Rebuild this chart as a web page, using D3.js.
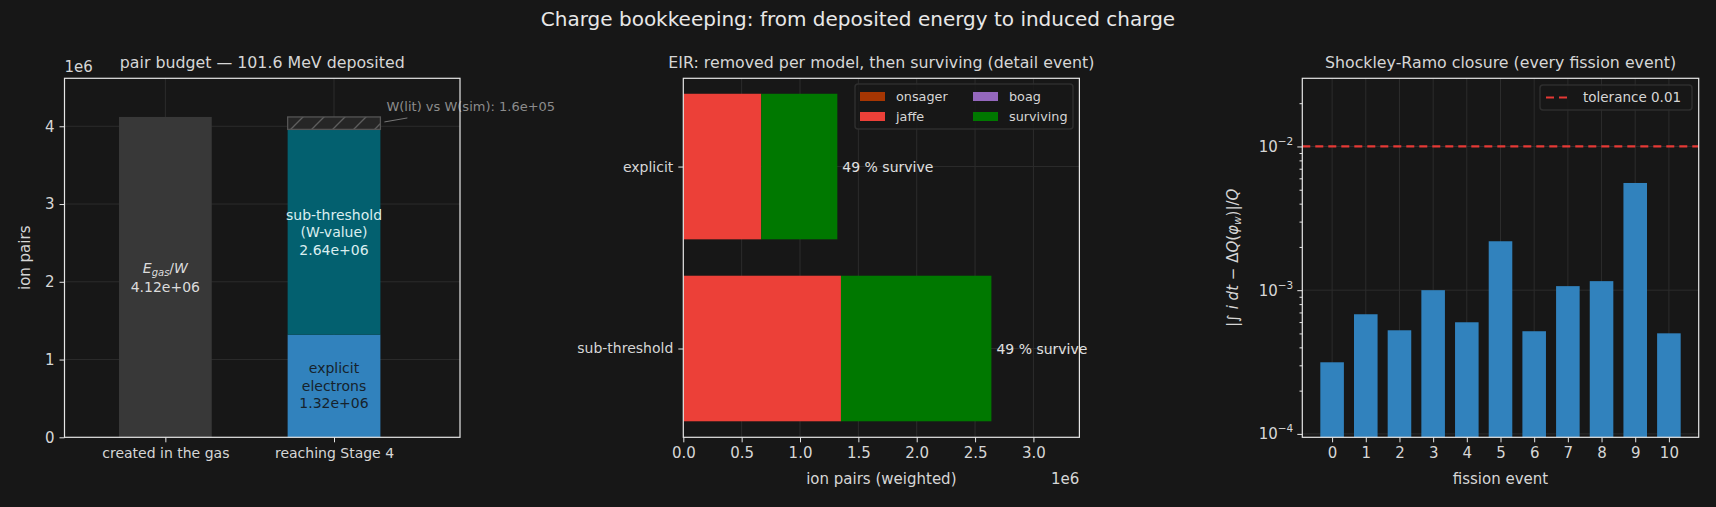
<!DOCTYPE html>
<html>
<head>
<meta charset="utf-8">
<script src="https://cdn.jsdelivr.net/npm/d3@7"></script>
<style>
  body { margin: 0; background: #171717; }
  svg { display: block; }
  text { font-family: "DejaVu Sans", sans-serif; }
</style>
</head>
<body>
<div class="canvas"></div>
<script>
// ---- data ----
const budgetCats = ['created in the gas', 'reaching Stage 4'];
const createdPairs = [4.12e6];
const stageNames = ['explicit', 'sub-threshold', 'W gap'];
const stageValues = [1.32e6, 2.64e6, 0.16e6];

const eirCats = ['sub-threshold', 'explicit'];
const eirModels = ['onsager', 'jaffe', 'boag', 'surviving'];
const onsager = [2e3, 2e3];
const jaffe = [1.349e6, 0.666e6];
const boag = [0, 0];
const surviving = [1.289e6, 0.652e6];

const events = [0, 1, 2, 3, 4, 5, 6, 7, 8, 9, 10];
const closure = [3.15e-4, 6.8e-4, 5.26e-4, 1.0e-3, 5.98e-4, 2.19e-3, 5.18e-4, 1.067e-3, 1.156e-3, 5.57e-3, 5.01e-4];
const tolerance = 0.01;

// ---- layout ----
const W = 1716, H = 507;
const plotTop = 78.3, plotBottom = 437.3;
const panels = {
    L: { x0: 64.5, x1: 460 },
    M: { x0: 683.3, x1: 1079.4 },
    R: { x0: 1302.3, x1: 1698.7 }
};
const fg = '#d6d6d6', gridC = '#2c2c2c', frameC = '#e6e6e6';

const svg = d3.select('.canvas')
    .append('svg')
    .attr('width', W)
    .attr('height', H);

svg.append('rect').attr('width', W).attr('height', H).attr('fill', '#171717');

// hatch pattern
const defs = svg.append('defs');
defs.append('pattern')
    .attr('id', 'hatch')
    .attr('patternUnits', 'userSpaceOnUse')
    .attr('width', 21).attr('height', 21)
    .append('path')
    .attr('d', 'M0,21 L21,0 M-5,5 L5,-5 M16,26 L26,16')
    .attr('stroke', '#5e5e5e').attr('stroke-width', 1.3);

svg.append('text')
    .attr('x', W / 2).attr('y', 26)
    .attr('text-anchor', 'middle')
    .attr('fill', '#e8e8e8')
    .attr('font-size', 20)
    .text('Charge bookkeeping: from deposited energy to induced charge');

const styleAxis = (g, fs) => {
    g.select('.domain').remove();
    g.selectAll('.tick line').attr('stroke', frameC).attr('stroke-width', 1);
    g.selectAll('.tick text').attr('fill', fg).attr('font-size', fs).attr('font-family', 'DejaVu Sans');
};

const frame = (p) => {
    svg.append('rect')
        .attr('x', p.x0).attr('y', plotTop)
        .attr('width', p.x1 - p.x0).attr('height', plotBottom - plotTop)
        .attr('fill', 'none').attr('stroke', frameC).attr('stroke-width', 1.2);
};

const title = (p, txt) => {
    svg.append('text')
        .attr('x', (p.x0 + p.x1) / 2).attr('y', 67.5)
        .attr('text-anchor', 'middle')
        .attr('fill', fg).attr('font-size', 15.8)
        .text(txt);
};

const multiLine = (x, yc, lines, color, step) => {
    const t = svg.append('text')
        .attr('text-anchor', 'middle')
        .attr('fill', color).attr('font-size', 14);
    lines.forEach((ln, i) => {
        t.append('tspan')
            .attr('x', x)
            .attr('y', yc + (i - (lines.length - 1) / 2) * step + 5)
            .text(ln);
    });
    return t;
};

const sciFmt = v => d3.format('.2e')(v).replace('e+', 'e+0');

// ================= left panel =================
const pL = panels.L;
const xL = d3.scaleLinear().domain([-0.598, 1.747]).range([pL.x0, pL.x1]);
const yL = d3.scaleLinear().domain([0, 4.617e6]).range([plotBottom, plotTop]);
const bw = 0.55;

const gL = svg.append('g');
// grid
gL.selectAll('.hg').data([1e6, 2e6, 3e6, 4e6]).enter().append('line')
    .attr('x1', pL.x0).attr('x2', pL.x1)
    .attr('y1', d => yL(d)).attr('y2', d => yL(d))
    .attr('stroke', gridC);
gL.selectAll('.vg').data([0, 1]).enter().append('line')
    .attr('x1', d => xL(d)).attr('x2', d => xL(d))
    .attr('y1', plotTop).attr('y2', plotBottom)
    .attr('stroke', gridC);

// created bar
gL.selectAll('.created').data(createdPairs).enter().append('rect')
    .attr('x', xL(0 - bw / 2)).attr('width', xL(bw) - xL(0))
    .attr('y', d => yL(d)).attr('height', d => yL(0) - yL(d))
    .attr('fill', '#383838');

// stacked stage bar
const stageColors = ['#3182bd', '#03606f', '#262626'];
let acc = 0;
const stageStack = stageValues.map((v, i) => {
    const s = { name: stageNames[i], y0: acc, y1: acc + v, color: stageColors[i] };
    acc += v;
    return s;
});
gL.selectAll('.stage').data(stageStack).enter().append('rect')
    .attr('x', xL(1 - bw / 2)).attr('width', xL(bw) - xL(0))
    .attr('y', d => yL(d.y1)).attr('height', d => yL(d.y0) - yL(d.y1))
    .attr('fill', d => d.color);
const gap = stageStack[2];
gL.append('rect')
    .attr('x', xL(1 - bw / 2)).attr('width', xL(bw) - xL(0))
    .attr('y', yL(gap.y1)).attr('height', yL(gap.y0) - yL(gap.y1))
    .attr('fill', 'url(#hatch)')
    .attr('stroke', '#555').attr('stroke-width', 1.3);

// bar labels
const lbl1 = multiLine(xL(0), yL(createdPairs[0] / 2), ['', sciFmt(createdPairs[0])], '#dcdcdc', 19);
const ml = lbl1.select('tspan');
ml.append('tspan').attr('font-style', 'italic').text('E');
ml.append('tspan').attr('font-style', 'italic').attr('font-size', 10).attr('dy', 3).text('gas');
ml.append('tspan').attr('dy', -3).text('/');
ml.append('tspan').attr('font-style', 'italic').text('W');

multiLine(xL(1), yL((stageStack[1].y0 + stageStack[1].y1) / 2),
    ['sub-threshold', '(W-value)', sciFmt(stageValues[1])], '#dbeef0', 17.5);
multiLine(xL(1), yL((stageStack[0].y0 + stageStack[0].y1) / 2),
    ['explicit', 'electrons', sciFmt(stageValues[0])], '#16222c', 17.5);

// annotation
gL.append('line')
    .attr('x1', xL(1 + bw / 2) + 4).attr('y1', yL(gap.y1) + 5)
    .attr('x2', xL(1 + bw / 2) + 27).attr('y2', yL(gap.y1) + 1)
    .attr('stroke', '#777').attr('stroke-width', 1);
gL.append('text')
    .attr('x', xL(1 + bw / 2) + 6).attr('y', yL(gap.y1) - 6)
    .attr('fill', '#8c8c8c').attr('font-size', 13)
    .text('W(lit) vs W(sim): ' + d3.format('.1e')(stageValues[2]).replace('e+', 'e+0'));

frame(pL);
const axL = svg.append('g').attr('transform', `translate(${pL.x0},0)`)
    .call(d3.axisLeft(yL).tickValues([0, 1e6, 2e6, 3e6, 4e6]).tickFormat(d => d / 1e6).tickSize(5).tickPadding(5));
styleAxis(axL, 15);
const axLx = svg.append('g').attr('transform', `translate(0,${plotBottom})`)
    .call(d3.axisBottom(xL).tickValues([0, 1]).tickFormat(d => budgetCats[d]).tickSize(5).tickPadding(6));
styleAxis(axLx, 14);
svg.append('text').attr('x', pL.x0).attr('y', 72).attr('fill', fg).attr('font-size', 15).text('1e6');
svg.append('text')
    .attr('transform', `translate(30,${(plotTop + plotBottom) / 2}) rotate(-90)`)
    .attr('text-anchor', 'middle').attr('fill', fg).attr('font-size', 15)
    .text('ion pairs');
title(pL, 'pair budget \u2014 101.6 MeV deposited');

// ================= middle panel =================
const pM = panels.M;
const xM = d3.scaleLinear().domain([0, 3.394e6]).range([pM.x0, pM.x1]);
const yM = d3.scaleLinear().domain([-0.488, 1.485]).range([plotBottom, plotTop]);
const bh = 0.8;
const modelColors = { onsager: '#a63603', jaffe: '#ec4038', boag: '#9467bd', surviving: '#007800' };
const eirRows = eirCats.map((c, i) => ({ cat: c, onsager: onsager[i], jaffe: jaffe[i], boag: boag[i], surviving: surviving[i] }));
const eirStack = d3.stack().keys(eirModels)(eirRows);

const gM = svg.append('g');
gM.selectAll('.vg').data([0.5e6, 1e6, 1.5e6, 2e6, 2.5e6, 3e6]).enter().append('line')
    .attr('x1', d => xM(d)).attr('x2', d => xM(d))
    .attr('y1', plotTop).attr('y2', plotBottom).attr('stroke', gridC);
gM.selectAll('.hg').data([0, 1]).enter().append('line')
    .attr('x1', pM.x0).attr('x2', pM.x1)
    .attr('y1', d => yM(d)).attr('y2', d => yM(d)).attr('stroke', gridC);

gM.selectAll('.layer').data(eirStack).enter().append('g')
    .attr('fill', d => modelColors[d.key])
    .selectAll('rect').data(d => d).enter().append('rect')
    .attr('x', d => xM(d[0]))
    .attr('width', d => xM(d[1]) - xM(d[0]))
    .attr('y', (d, i) => yM(i + bh / 2))
    .attr('height', yM(0) - yM(bh));

const rowTotal = d => d.onsager + d.jaffe + d.boag + d.surviving;
gM.selectAll('.pct').data(eirRows).enter().append('text')
    .attr('x', d => xM(rowTotal(d)) + 5)
    .attr('y', (d, i) => yM(i) + 5)
    .attr('fill', '#e0e0e0').attr('font-size', 14)
    .text(d => Math.round(100 * d.surviving / rowTotal(d)) + ' % survive');

frame(pM);
const axMx = svg.append('g').attr('transform', `translate(0,${plotBottom})`)
    .call(d3.axisBottom(xM).tickValues([0, 0.5e6, 1e6, 1.5e6, 2e6, 2.5e6, 3e6]).tickFormat(d => (d / 1e6).toFixed(1)).tickSize(5).tickPadding(5));
styleAxis(axMx, 15);
const axMy = svg.append('g').attr('transform', `translate(${pM.x0},0)`)
    .call(d3.axisLeft(yM).tickValues([0, 1]).tickFormat(d => eirCats[d]).tickSize(5).tickPadding(5));
styleAxis(axMy, 14);
svg.append('text').attr('x', (pM.x0 + pM.x1) / 2).attr('y', 484).attr('text-anchor', 'middle')
    .attr('fill', fg).attr('font-size', 15).text('ion pairs (weighted)');
svg.append('text').attr('x', pM.x1).attr('y', 484).attr('text-anchor', 'end')
    .attr('fill', fg).attr('font-size', 15).text('1e6');
title(pM, 'EIR: removed per model, then surviving (detail event)');

// legend
const lgM = svg.append('g').attr('transform', 'translate(855,84)');
lgM.append('rect').attr('width', 218).attr('height', 45).attr('rx', 3)
    .attr('fill', '#171717').attr('fill-opacity', 0.85).attr('stroke', '#2e2e2e').attr('stroke-width', 1.5);
eirModels.forEach((m, i) => {
    const col = Math.floor(i / 2), row = i % 2;
    const gx = 5 + col * 113, gy = 8 + row * 20;
    lgM.append('rect').attr('x', gx).attr('y', gy).attr('width', 25).attr('height', 9).attr('fill', modelColors[m]);
    lgM.append('text').attr('x', gx + 36).attr('y', gy + 9).attr('fill', fg).attr('font-size', 12.8).text(m);
});

// ================= right panel =================
const pR = panels.R;
const xR = d3.scaleLinear().domain([-0.885, 10.885]).range([pR.x0, pR.x1]);
const yR = d3.scaleLog().domain([9.47e-5, 0.0298]).range([plotBottom, plotTop]);
const bwR = 0.7;

const gR = svg.append('g');
gR.selectAll('.vg').data(events).enter().append('line')
    .attr('x1', d => xR(d)).attr('x2', d => xR(d))
    .attr('y1', plotTop).attr('y2', plotBottom).attr('stroke', gridC);
gR.selectAll('.hg').data([1e-4, 1e-3, 1e-2]).enter().append('line')
    .attr('x1', pR.x0).attr('x2', pR.x1)
    .attr('y1', d => yR(d)).attr('y2', d => yR(d)).attr('stroke', gridC);

gR.selectAll('.bar').data(closure).enter().append('rect')
    .attr('x', (d, i) => xR(events[i] - bwR / 2))
    .attr('width', xR(bwR) - xR(0))
    .attr('y', d => yR(d))
    .attr('height', d => plotBottom - yR(d))
    .attr('fill', '#3182bd');

gR.append('line')
    .attr('x1', pR.x0).attr('x2', pR.x1)
    .attr('y1', yR(tolerance)).attr('y2', yR(tolerance))
    .attr('stroke', '#e53935').attr('stroke-width', 2.2)
    .attr('stroke-dasharray', '8,5');

frame(pR);
const axRx = svg.append('g').attr('transform', `translate(0,${plotBottom})`)
    .call(d3.axisBottom(xR).tickValues(events).tickFormat(d3.format('d')).tickSize(5).tickPadding(5));
styleAxis(axRx, 15);
const minors = [];
[1e-4, 1e-3, 1e-2].forEach(dec => { for (let k = 2; k <= 9; k++) { const v = dec * k; if (v <= 0.0298) minors.push(v); } });
const axRm = svg.append('g').attr('transform', `translate(${pR.x0},0)`)
    .call(d3.axisLeft(yR).tickValues(minors).tickFormat('').tickSize(2.8));
styleAxis(axRm, 10);
const axRy = svg.append('g').attr('transform', `translate(${pR.x0},0)`)
    .call(d3.axisLeft(yR).tickValues([1e-4, 1e-3, 1e-2]).tickFormat('').tickSize(5));
styleAxis(axRy, 15);
axRy.selectAll('.tick').append('text')
    .attr('x', -9).attr('y', 5)
    .attr('text-anchor', 'end').attr('fill', fg).attr('font-size', 15)
    .each(function (d) {
        const t = d3.select(this);
        t.append('tspan').text('10');
        t.append('tspan').attr('font-size', 10.5).attr('dy', -7).text('\u2212' + Math.round(-Math.log10(d)));
    });

svg.append('text').attr('x', (pR.x0 + pR.x1) / 2).attr('y', 484).attr('text-anchor', 'middle')
    .attr('fill', fg).attr('font-size', 15).text('fission event');

const yl = svg.append('text')
    .attr('transform', `translate(1238,${(plotTop + plotBottom) / 2}) rotate(-90)`)
    .attr('text-anchor', 'middle').attr('fill', fg).attr('font-size', 15);
[['|\u222B ', 'normal'], ['i dt', 'italic'], [' \u2212 \u0394', 'normal'], ['Q', 'italic'], ['(', 'normal'],
 ['\u03C6', 'italic'], ['w', 'sub'], [')|/', 'normal'], ['Q', 'italic']].forEach(([s, k]) => {
    const ts = yl.append('tspan').text(s);
    if (k === 'italic') ts.attr('font-style', 'italic');
    if (k === 'sub') ts.attr('font-style', 'italic').attr('font-size', 10.5).attr('dy', 3);
    if (s === ')|/') ts.attr('dy', -3);
});
title(pR, 'Shockley-Ramo closure (every fission event)');

// legend
const lgR = svg.append('g').attr('transform', 'translate(1540,85)');
lgR.append('rect').attr('width', 152).attr('height', 25).attr('rx', 3)
    .attr('fill', '#171717').attr('fill-opacity', 0.85).attr('stroke', '#2e2e2e').attr('stroke-width', 1.5);
lgR.append('line').attr('x1', 6).attr('x2', 31).attr('y1', 12.5).attr('y2', 12.5)
    .attr('stroke', '#e53935').attr('stroke-width', 2.2).attr('stroke-dasharray', '8,5');
lgR.append('text').attr('x', 43).attr('y', 17).attr('fill', fg).attr('font-size', 13.5).text('tolerance ' + tolerance);
</script>
</body>
</html>
